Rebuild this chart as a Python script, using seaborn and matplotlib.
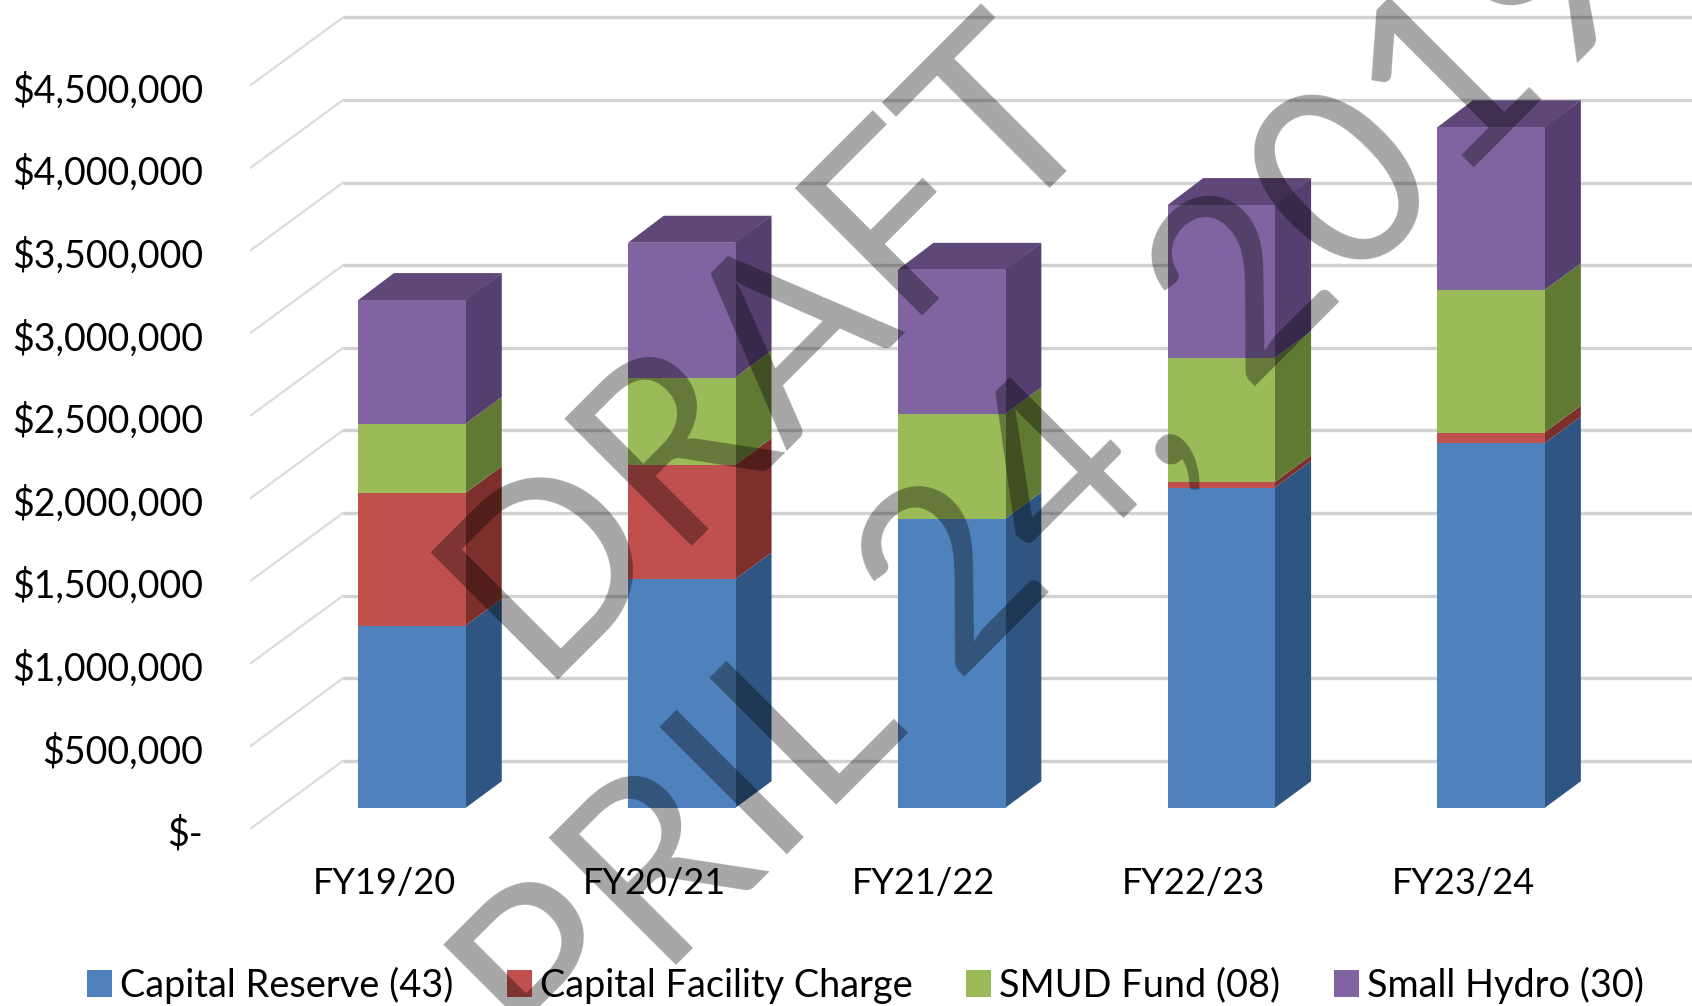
import numpy as np
import pandas as pd
import matplotlib
matplotlib.use("Agg")
import matplotlib.pyplot as plt
from matplotlib.patches import Polygon
import seaborn as sns

# Funding by fiscal year, in dollars
fiscal_years = ["FY19/20", "FY20/21", "FY21/22", "FY22/23", "FY23/24"]
capital_reserve = [1104000, 1385000, 1750000, 1940000, 2208000]
capital_facility = [803000, 692000, 0, 33000, 65000]
smud_fund = [418000, 529000, 634000, 751000, 862000]
small_hydro = [751000, 817000, 875000, 927000, 987000]

fund_names = ["Capital Reserve (43)", "Capital Facility Charge", "SMUD Fund (08)", "Small Hydro (30)"]
fund_values = [capital_reserve, capital_facility, smud_fund, small_hydro]
front_colors = ["#4f81bd", "#c0504d", "#9bbb59", "#8064a2"]
side_colors = ["#2f5583", "#7d2f2c", "#617a33", "#553f70"]
top_color = "#5f4879"

grid_values = [0, 500000, 1000000, 1500000, 2000000, 2500000, 3000000, 3500000, 4000000, 4500000]
grid_labels = ["$-", "$500,000", "$1,000,000", "$1,500,000", "$2,000,000",
               "$2,500,000", "$3,000,000", "$3,500,000", "$4,000,000", "$4,500,000"]

sns.set_theme(style="white")
plt.rcParams["font.family"] = ["Lato", "DejaVu Sans"]

W, H = 1692, 1006
S = W / 1568  # layout below is laid out on a 1568-wide grid

fig = plt.figure(figsize=(W / 100, H / 100), dpi=100, facecolor="white")
ax_left, ax_bottom_y = 232 * S, 800 * S
ax = fig.add_axes([ax_left / W, 1 - ax_bottom_y / H, 1 - ax_left / W, ax_bottom_y / H])

# Data scales: one category step is 250 grid units, $500k is 76.55
BASE_Y, FIRST_X, STEP_X, STEP_Y = 749, 382, 250, 76.55
val = lambda grid_dy: grid_dy / STEP_Y * 500000
ax.set_xlim((232 - FIRST_X) / STEP_X, (1568 - FIRST_X) / STEP_X)
ax.set_ylim(val(BASE_Y - 800), val(BASE_Y))

# Depth of the pseudo-3D bars and of the chart's floor
bar_dx, bar_dy = 33 / STEP_X, val(25)
BAR_WIDTH = 100 / STEP_X
wall_x0, wall_x1 = ax.get_xlim()[0], (318 - FIRST_X) / STEP_X
wall_front, wall_back = val(-19), val(44)

for v in grid_values:
    ax.plot([wall_x0, wall_x1], [v + wall_front, v + wall_back], color="#dcdcdc", lw=1.6,
            solid_capstyle="round", zorder=1)
    ax.plot([wall_x1, ax.get_xlim()[1]], [v + wall_back, v + wall_back], color="#d2d2d2", lw=2.4,
            solid_capstyle="butt", zorder=1)

# Stacked front faces through seaborn, side and top faces offset from the same values
positions = np.arange(len(fiscal_years))
bottom = np.zeros(len(fiscal_years))
for name, values, front, side in zip(fund_names, fund_values, front_colors, side_colors):
    frame = pd.DataFrame({"pos": positions, "amount": values})
    sns.barplot(data=frame, x="pos", y="amount", bottom=bottom, width=BAR_WIDTH, native_scale=True,
                color=front, saturation=1, linewidth=0, label=name, legend=False, ax=ax, zorder=3)
    for p, b, h in zip(positions, bottom, values):
        if h > 0:
            xr = p + BAR_WIDTH / 2
            ax.add_patch(Polygon([(xr - 0.004, b), (xr + bar_dx, b + bar_dy),
                                  (xr + bar_dx, b + h + bar_dy), (xr - 0.004, b + h)],
                                 closed=True, facecolor=side, edgecolor="none", zorder=2.5))
    bottom = bottom + np.array(values)

for p, t in zip(positions, bottom):
    xl, xr = p - BAR_WIDTH / 2, p + BAR_WIDTH / 2
    ax.add_patch(Polygon([(xl, t), (xr, t), (xr + bar_dx, t + bar_dy), (xl + bar_dx, t + bar_dy)],
                         closed=True, facecolor=top_color, edgecolor="none", zorder=2.5))

# Tick labels sit at the front edge of the floor
ax.set_xlim((232 - FIRST_X) / STEP_X, (1568 - FIRST_X) / STEP_X)
ax.set_ylim(val(BASE_Y - 800), val(BASE_Y))
ax.set_yticks([v + val(-21) for v in grid_values], grid_labels)
ax.set_xticks(positions - 26 / STEP_X, fiscal_years)
ax.set_xlabel("")
ax.set_ylabel("")
ax.tick_params(axis="y", length=0, pad=34, labelsize=27, labelcolor="black")
ax.tick_params(axis="x", length=0, pad=3, labelsize=26, labelcolor="black")
sns.despine(ax=ax, left=True, bottom=True)
ax.patch.set_alpha(0)

handles = [c for c in ax.containers]
fig.legend(handles, fund_names, loc="center", bbox_to_anchor=(802 / 1568, 1 - 913 * S / H), ncol=4,
           frameon=False, fontsize=27.3, handlelength=0.66, handleheight=0.68,
           handletextpad=0.2, columnspacing=1.42, labelcolor="black")

# Diagonal stamp across the chart
stamp = dict(rotation=45, rotation_mode="anchor", ha="center", va="center", color="black",
             alpha=0.35, fontsize=180, fontweight="regular", zorder=10)
fig.text(713 * S / W, 1 - 320 * S / H, "DRAFT", transform=fig.transFigure, **stamp)
fig.text(922 * S / W, 1 - 505 * S / H, "APRIL 24, 2019", transform=fig.transFigure, **stamp)

fig.savefig("out.png", dpi=100)
